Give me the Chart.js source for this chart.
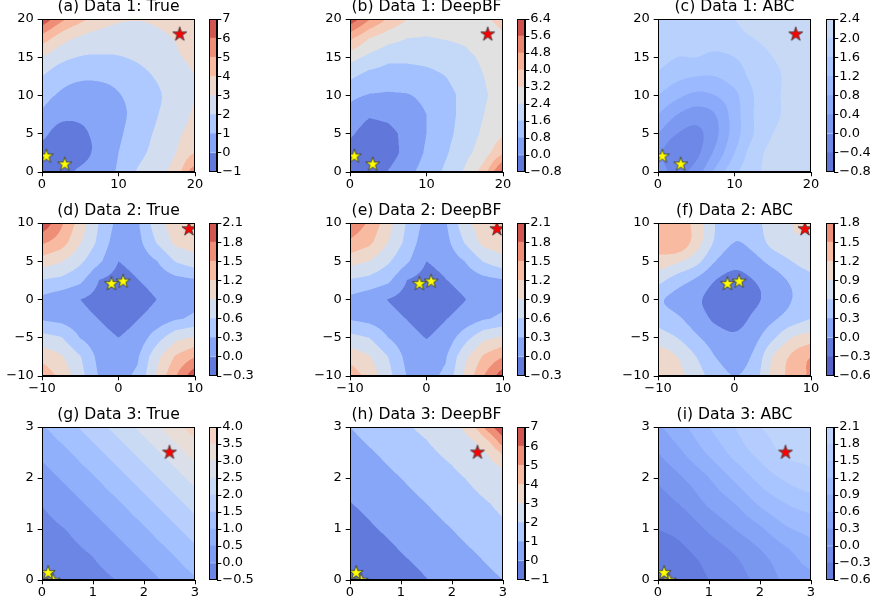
<!DOCTYPE html>
<html><head><meta charset="utf-8">
<script src="https://cdn.jsdelivr.net/npm/chart.js@4.4.1/dist/chart.umd.min.js"></script>
<style>
html,body{margin:0;padding:0;background:#fff;overflow:hidden;width:874px;height:600px;position:relative;}
canvas{position:absolute;}
</style></head><body>
<script>
// ---------------- DATA ----------------
const grid1 = [0,2.5,5,7.5,10,12.5,15,17.5,20];
const grid2 = [-10,-7.5,-5,-2.5,0,2.5,5,7.5,10];
const grid3 = [0,0.5,1,1.5,2,2.5,3];
const gridH = [0,0.5,1,1.5,2,2.25,2.5,2.75,3];

const ticks1x = [0,10,20];
const ticks1y = [0,5,10,15,20];
const ticks2x = [-10,0,10];
const ticks2y = [-10,-5,0,5,10];
const ticks3 = [0,1,2,3];

// rows: first row is lowest y
const zA = [
 [-0.5,-0.4,0.25,0.75,1.1,2.1,2.7,3.45,5.5],
 [-0.45,-0.9,-0.45,0.35,1.0,1.7,2.35,3.0,4.0],
 [0.3,-0.45,-0.2,0.3,0.85,1.5,2.15,2.8,3.35],
 [0.85,0.3,0.2,0.45,0.8,1.3,1.95,2.55,3.1],
 [1.35,0.85,0.65,0.7,0.95,1.35,1.85,2.45,3.02],
 [2.0,1.4,1.15,1.15,1.3,1.65,2.1,2.6,3.02],
 [3.0,2.3,1.95,1.9,1.95,2.15,2.5,2.9,3.15],
 [4.6,3.5,2.85,2.55,2.45,2.55,2.8,3.05,3.35],
 [6.8,5.3,4.3,3.6,3.15,3.05,3.15,3.35,3.7]
];
const zB = [
 [-0.4,-0.5,0.05,0.6,1.1,1.75,2.5,3.6,6.0],
 [-0.45,-0.75,-0.4,0.3,0.9,1.5,2.15,2.8,3.9],
 [0.15,-0.45,-0.25,0.25,0.8,1.35,1.95,2.55,3.1],
 [0.55,0.1,0.2,0.45,0.8,1.3,1.85,2.4,2.9],
 [0.95,0.75,0.7,0.75,0.95,1.35,1.8,2.3,2.75],
 [1.75,1.3,1.2,1.2,1.35,1.6,1.95,2.4,2.8],
 [2.7,2.2,1.8,1.8,1.85,1.95,2.2,2.55,2.9],
 [4.2,3.2,2.7,2.4,2.35,2.45,2.55,2.8,3.1],
 [6.2,4.9,3.9,3.2,2.9,2.85,2.95,3.1,3.4]
];
const zC = [
 [0.2,-0.1,0.2,0.9,1.5,1.9,2.1,2.1,2.1],
 [0.1,-0.3,-0.1,0.5,1.2,1.8,2.1,2.1,2.1],
 [0.4,0.0,-0.1,0.3,1.0,1.6,2.0,2.1,2.1],
 [0.8,0.4,0.2,0.4,1.0,1.6,1.9,2.1,2.1],
 [1.2,0.9,0.7,0.8,1.1,1.6,1.9,2.1,2.1],
 [1.5,1.3,1.2,1.2,1.4,1.7,1.9,2.1,2.1],
 [1.8,1.6,1.6,1.5,1.6,1.8,2.0,2.1,2.1],
 [1.9,1.9,1.8,1.8,1.9,2.0,2.1,2.1,2.1],
 [2.0,2.0,2.0,1.9,2.0,2.1,2.1,2.1,2.1]
];
const zD = [
 [1.4,1.12,0.71,0.27,0.2,0.355,0.94,1.49,2.05],
 [1.12,0.94,0.62,0.2,0.1,0.265,0.82,1.24,1.49],
 [0.71,0.62,0.29,0.1,0.0,0.1,0.47,0.82,0.94],
 [0.26,0.2,0.1,-0.01,-0.12,-0.01,0.1,0.265,0.355],
 [0.22,0.1,0.0,-0.12,-0.2,-0.12,0.0,0.1,0.2],
 [0.58,0.52,0.37,-0.01,-0.12,-0.01,0.1,0.2,0.26],
 [1.06,0.925,0.66,0.35,0.0,0.1,0.29,0.62,0.78],
 [1.56,1.36,0.925,0.52,0.1,0.2,0.62,0.98,1.08],
 [2.05,1.56,1.06,0.58,0.2,0.26,0.78,1.08,1.3]
];
const zE = [
 [1.38,1.1,0.7,0.28,0.2,0.36,0.95,1.5,2.0],
 [1.1,0.93,0.6,0.2,0.1,0.27,0.83,1.25,1.5],
 [0.7,0.6,0.3,0.1,-0.01,0.1,0.48,0.83,0.95],
 [0.27,0.2,0.1,-0.01,-0.13,-0.01,0.1,0.27,0.36],
 [0.22,0.1,-0.01,-0.13,-0.2,-0.13,-0.01,0.1,0.2],
 [0.57,0.5,0.36,-0.01,-0.13,-0.01,0.1,0.2,0.27],
 [1.02,0.9,0.64,0.34,0.0,0.1,0.3,0.62,0.8],
 [1.45,1.28,0.9,0.5,0.1,0.2,0.62,1.0,1.1],
 [1.75,1.45,1.02,0.56,0.2,0.27,0.8,1.1,1.32]
];
const zF = [
 [1.15,1.0,0.75,0.45,0.3,0.45,1.0,1.3,1.55],
 [1.1,0.9,0.6,0.3,0.2,0.35,0.9,1.25,1.5],
 [0.75,0.6,0.35,0.15,0.05,0.2,0.55,0.9,1.05],
 [0.5,0.35,0.15,-0.05,-0.1,0.05,0.25,0.45,0.6],
 [0.35,0.2,0.05,-0.1,-0.15,-0.05,0.1,0.3,0.45],
 [0.7,0.45,0.25,0.0,-0.1,0.0,0.15,0.35,0.5],
 [1.1,0.95,0.7,0.3,0.1,0.2,0.4,0.6,0.75],
 [1.35,1.45,1.05,0.55,0.3,0.4,0.7,0.85,0.85],
 [1.4,1.35,1.1,0.6,0.35,0.5,0.75,0.9,1.0]
];
const zG = [
 [-0.45,-0.35,-0.18,0.02,0.3,0.6,0.95],
 [-0.35,-0.18,0.02,0.3,0.6,0.95,1.33],
 [-0.18,0.02,0.3,0.6,0.95,1.33,1.75],
 [0.02,0.3,0.6,0.95,1.33,1.75,2.2],
 [0.3,0.6,0.95,1.33,1.75,2.2,2.68],
 [0.6,0.95,1.33,1.75,2.2,2.68,3.2],
 [0.95,1.33,1.75,2.2,2.68,3.2,3.75]
];
const zH = [
 [-0.8,-0.6,-0.38,-0.03,0.3,0.48,0.65,0.82,1.0],
 [-0.6,-0.38,-0.03,0.3,0.65,0.82,1.0,1.2,1.4],
 [-0.38,-0.03,0.3,0.65,1.0,1.2,1.4,1.6,1.8],
 [-0.03,0.3,0.65,1.0,1.4,1.6,1.8,2.0,2.25],
 [0.3,0.65,1.0,1.4,1.8,2.0,2.25,2.5,2.75],
 [0.48,0.82,1.2,1.6,2.0,2.25,2.5,2.75,3.15],
 [0.65,1.0,1.4,1.8,2.25,2.5,2.75,3.15,4.25],
 [0.82,1.2,1.6,2.0,2.5,2.75,3.15,4.25,5.8],
 [1.0,1.4,1.8,2.25,2.75,3.15,4.25,5.8,6.9]
];
const zI = [
 [-0.5,-0.45,-0.3,-0.15,0.1,0.35,0.5],
 [-0.45,-0.35,-0.2,0.0,0.25,0.5,0.75],
 [-0.3,-0.2,0.05,0.3,0.55,0.85,1.0],
 [-0.15,0.05,0.35,0.6,0.95,1.2,1.35],
 [0.05,0.3,0.6,0.95,1.3,1.55,1.7],
 [0.3,0.6,0.95,1.3,1.6,1.85,1.9],
 [0.55,0.85,1.2,1.5,1.8,1.9,1.95]
];

const levelsA = [-1,0,1,2,3,4,5,6,7];
const labelsA = ['\u22121','0','1','2','3','4','5','6','7'];
const levelsB = [-0.8,0,0.8,1.6,2.4,3.2,4.0,4.8,5.6,6.4];
const labelsB = ['\u22120.8','0.0','0.8','1.6','2.4','3.2','4.0','4.8','5.6','6.4'];
const levelsC = [-0.8,-0.4,0,0.4,0.8,1.2,1.6,2.0,2.4];
const labelsC = ['\u22120.8','\u22120.4','0.0','0.4','0.8','1.2','1.6','2.0','2.4'];
const levelsD = [-0.3,0,0.3,0.6,0.9,1.2,1.5,1.8,2.1];
const labelsD = ['\u22120.3','0.0','0.3','0.6','0.9','1.2','1.5','1.8','2.1'];
const levelsF = [-0.6,-0.3,0,0.3,0.6,0.9,1.2,1.5,1.8];
const labelsF = ['\u22120.6','\u22120.3','0.0','0.3','0.6','0.9','1.2','1.5','1.8'];
const levelsG = [-0.5,0,0.5,1,1.5,2,2.5,3,3.5,4];
const labelsG = ['\u22120.5','0.0','0.5','1.0','1.5','2.0','2.5','3.0','3.5','4.0'];
const levelsH = [-1,0,1,2,3,4,5,6,7];
const labelsH = ['\u22121','0','1','2','3','4','5','6','7'];
const levelsI = [-0.6,-0.3,0,0.3,0.6,0.9,1.2,1.5,1.8,2.1];
const labelsI = ['\u22120.6','\u22120.3','0.0','0.3','0.6','0.9','1.2','1.5','1.8','2.1'];

const yellow1 = [{x:0.57,y:2.05},{x:2.97,y:1.0}];
const red1 = [{x:18,y:18}];
const yellow2 = [{x:-0.92,y:2.05},{x:0.61,y:2.36}];
const red2 = [{x:9.2,y:9.2}];
const yellow3 = [{x:0.22,y:-0.01},{x:0.12,y:0.14}];
const red3 = [{x:2.5,y:2.5}];

const titles = ['(a) Data 1: True','(b) Data 1: DeepBF','(c) Data 1: ABC',
                '(d) Data 2: True','(e) Data 2: DeepBF','(f) Data 2: ABC',
                '(g) Data 3: True','(h) Data 3: DeepBF','(i) Data 3: ABC'];

// ---------------- STYLE ----------------
const COOLWARM = [[59,76,192],[68,90,204],[77,104,215],[87,117,225],[98,130,234],[108,142,241],[119,154,247],[130,165,251],[141,176,254],[152,185,255],[163,194,255],[174,201,253],[184,208,249],[194,213,244],[204,217,238],[213,219,230],[221,221,221],[229,216,209],[236,211,197],[241,204,184],[245,196,173],[247,187,160],[247,177,148],[247,166,135],[244,154,123],[241,141,111],[236,127,99],[229,112,88],[222,96,77],[213,80,66],[203,62,56],[192,40,47],[180,4,38]];
const ALPHA = 0.88;
const PLOT_LEFT = [42,350,658], PLOT_TOP = [19,223,427], PW = 153, PH = 153;
const CB_LEFT = [209,517,826], CB_W = 8;

Chart.defaults.font.family = "'DejaVu Sans', sans-serif";
Chart.defaults.color = '#000';

function coolwarm(t){
  t = Math.max(0, Math.min(1, t));
  const p = t*32; let i = Math.floor(p); if (i > 31) i = 31;
  const f = p - i, a = COOLWARM[i], b = COOLWARM[i+1];
  return [0,1,2].map(k => Math.round((a[k]*(1-f) + b[k]*f)*ALPHA + 255*(1-ALPHA)));
}
function bandColors(levels, norm){
  const out = [];
  for (let k=0;k<levels.length-1;k++){
    const mid = (levels[k]+levels[k+1])/2;
    out.push(coolwarm((mid-norm[0])/(norm[1]-norm[0])));
  }
  return out;
}
function cellIndex(g, v){
  let i = 0; while (i < g.length-2 && v >= g[i+1]) i++;
  return i;
}
function bilinear(gx, gy, z, vx, vy){
  const i = cellIndex(gx, vx), j = cellIndex(gy, vy);
  const tx = (vx-gx[i])/(gx[i+1]-gx[i]), ty = (vy-gy[j])/(gy[j+1]-gy[j]);
  return (z[j][i]*(1-tx) + z[j][i+1]*tx)*(1-ty) + (z[j+1][i]*(1-tx) + z[j+1][i+1]*tx)*ty;
}
function padGrid(z){
  const ny = z.length, nx = z[0].length, P = [];
  for (let j=0;j<ny;j++){
    const r = z[j].slice(); r.unshift(2*r[0]-r[1]); r.push(2*r[nx-1]-r[nx-2]); P.push(r);
  }
  const top = P[0].map((v,i) => 2*v - P[1][i]);
  const bot = P[ny-1].map((v,i) => 2*v - P[ny-2][i]);
  P.unshift(top); P.push(bot);
  return P;
}
function cr(p0,p1,p2,p3,t){
  return 0.5*(2*p1 + (-p0+p2)*t + (2*p0-5*p1+4*p2-p3)*t*t + (-p0+3*p1-3*p2+p3)*t*t*t);
}
function bicubic(gx, gy, P, vx, vy){
  const i = cellIndex(gx, vx), j = cellIndex(gy, vy);
  const tx = (vx-gx[i])/(gx[i+1]-gx[i]), ty = (vy-gy[j])/(gy[j+1]-gy[j]);
  const r = [];
  for (let k=0;k<4;k++){ const row = P[j+k]; r.push(cr(row[i],row[i+1],row[i+2],row[i+3],tx)); }
  return cr(r[0],r[1],r[2],r[3],ty);
}
function starImage(fill){
  const R = 7.4, r = R*0.382, size = 20;
  const c = document.createElement('canvas'); c.width = size; c.height = size;
  const g = c.getContext('2d');
  g.translate(size/2, size/2);
  g.beginPath();
  for (let k=0;k<10;k++){
    const ang = -Math.PI/2 + k*Math.PI/5, rad = (k%2) ? r : R;
    g.lineTo(rad*Math.cos(ang), rad*Math.sin(ang));
  }
  g.closePath(); g.fillStyle = fill; g.fill();
  g.lineWidth = 0.8; g.strokeStyle = '#333'; g.stroke();
  return c;
}
const YSTAR = starImage('#ffff00'), RSTAR = starImage('#ff0000');
const minusFmt = v => String(v).replace('-', '\u2212');

const framePlugin = {
  id: 'frame',
  afterDatasetsDraw(chart){
    const a = chart.chartArea, g = chart.ctx;
    g.save(); g.strokeStyle = '#000'; g.lineWidth = 1;
    g.strokeRect(Math.round(a.left)+0.5, Math.round(a.top)+0.5, Math.round(a.right-a.left)-1, Math.round(a.bottom-a.top)-1);
    g.restore();
  }
};

function makeContourPlugin(p, colors){
  const P = p.smooth ? padGrid(p.z) : null;
  return {
    id: 'contourFill',
    beforeDatasetsDraw(chart){
      const a = chart.chartArea, xs = chart.scales.x, ys = chart.scales.y;
      const S = 2, w = Math.round((a.right-a.left)*S), h = Math.round((a.bottom-a.top)*S);
      const off = document.createElement('canvas'); off.width = w; off.height = h;
      const octx = off.getContext('2d');
      const img = octx.createImageData(w, h), d = img.data;
      const vxs = [], vys = [];
      for (let i=0;i<w;i++) vxs.push(xs.getValueForPixel(a.left + (i+0.5)/S));
      for (let j=0;j<h;j++) vys.push(ys.getValueForPixel(a.top + (j+0.5)/S));
      const L = p.levels, nb = L.length-1;
      for (let j=0;j<h;j++){
        for (let i=0;i<w;i++){
          const v = P ? bicubic(p.gx, p.gy, P, vxs[i], vys[j]) : bilinear(p.gx, p.gy, p.z, vxs[i], vys[j]);
          let k = 0; while (k < nb-1 && v >= L[k+1]) k++;
          const c = colors[k], o = (j*w+i)*4;
          d[o]=c[0]; d[o+1]=c[1]; d[o+2]=c[2]; d[o+3]=255;
        }
      }
      octx.putImageData(img, 0, 0);
      const g = chart.ctx; g.save(); g.imageSmoothingEnabled = true;
      g.drawImage(off, a.left, a.top, a.right-a.left, a.bottom-a.top); g.restore();
    }
  };
}

function axisCommon(){
  return {
    grid:{drawOnChartArea:false, drawTicks:true, tickLength:4.3, color:'#000', lineWidth:1},
    border:{display:true, color:'#000', width:1},
  };
}

function makePanel(p){
  const colors = bandColors(p.levels, p.norm);
  const cv = document.createElement('canvas');
  cv.width = 42 + PW + 12; cv.height = 21 + PH + 26;
  cv.style.left = (PLOT_LEFT[p.col]-42)+'px'; cv.style.top = (PLOT_TOP[p.row]-21)+'px';
  document.body.appendChild(cv);
  new Chart(cv, {
    type: 'scatter',
    data: {datasets: [
      {data: p.yellow, pointStyle: YSTAR, clip: 0},
      {data: p.red, pointStyle: RSTAR, clip: 0}
    ]},
    options: {
      animation: false, responsive: false, events: [],
      layout: {padding: {left:0, right:12, top:0, bottom:2}},
      plugins: {
        legend: {display:false}, tooltip: {enabled:false},
        title: {display:true, text:p.title, fullSize:false, color:'#000',
          font:{size:15.6, weight:'normal', lineHeight:1.2}, padding:{top:0, bottom:2.28}}
      },
      scales: {
        x: Object.assign(axisCommon(), {type:'linear', min:p.xr[0], max:p.xr[1],
          afterBuildTicks: s => { s.ticks = p.xt.map(v => ({value:v})); },
          afterFit: s => { s.height = 24; },
          ticks: {padding:1, font:{size:13}, color:'#000', maxRotation:0, autoSkip:false, callback: v => minusFmt(v)}}),
        y: Object.assign(axisCommon(), {type:'linear', min:p.yr[0], max:p.yr[1],
          afterBuildTicks: s => { s.ticks = p.yt.map(v => ({value:v})); },
          afterFit: s => { s.width = 42; },
          ticks: {padding:4, font:{size:13}, color:'#000', autoSkip:false, callback: v => minusFmt(v)}})
      }
    },
    plugins: [makeContourPlugin(p, colors), framePlugin]
  });
  const cb = document.createElement('canvas');
  cb.width = CB_W + 44; cb.height = PH + 20;
  cb.style.left = CB_LEFT[p.col]+'px'; cb.style.top = (PLOT_TOP[p.row]-10)+'px';
  document.body.appendChild(cb);
  const L = p.levels;
  new Chart(cb, {
    type: 'bar',
    data: {labels: [''], datasets: colors.map((c,k) => ({
      data: [[L[k], L[k+1]]], backgroundColor: 'rgb('+c.join(',')+')', borderWidth:0,
      barPercentage:1, categoryPercentage:1, grouped:false}))},
    options: {
      animation:false, responsive:false, events:[],
      layout: {padding:{left:0,right:0,top:10,bottom:10}},
      plugins: {legend:{display:false}, tooltip:{enabled:false}},
      scales: {
        x: {display:false},
        y: Object.assign(axisCommon(), {type:'linear', position:'right', min:L[0], max:L[L.length-1],
          afterBuildTicks: s => { s.ticks = L.map(v => ({value:v})); },
          afterFit: s => { s.width = 44; },
          ticks: {padding:1, font:{size:13}, color:'#000', autoSkip:false, callback: (v,i) => p.cbLabels[i]}})
      }
    },
    plugins: [framePlugin]
  });
}

const panels = [
  {title:titles[0], gx:grid1, gy:grid1, z:zA, levels:levelsA, cbLabels:labelsA, norm:[-1,7], xr:[0,20], yr:[0,20], xt:ticks1x, yt:ticks1y, yellow:yellow1, red:red1, col:0, row:0, smooth:true},
  {title:titles[1], gx:grid1, gy:grid1, z:zB, levels:levelsB, cbLabels:labelsB, norm:[-0.8,6.4], xr:[0,20], yr:[0,20], xt:ticks1x, yt:ticks1y, yellow:yellow1, red:red1, col:1, row:0, smooth:false},
  {title:titles[2], gx:grid1, gy:grid1, z:zC, levels:levelsC, cbLabels:labelsC, norm:[-1,7], xr:[0,20], yr:[0,20], xt:ticks1x, yt:ticks1y, yellow:yellow1, red:red1, col:2, row:0, smooth:true},
  {title:titles[3], gx:grid2, gy:grid2, z:zD, levels:levelsD, cbLabels:labelsD, norm:[-0.3,2.1], xr:[-10,10], yr:[-10,10], xt:ticks2x, yt:ticks2y, yellow:yellow2, red:red2, col:0, row:1, smooth:false},
  {title:titles[4], gx:grid2, gy:grid2, z:zE, levels:levelsD, cbLabels:labelsD, norm:[-0.3,2.1], xr:[-10,10], yr:[-10,10], xt:ticks2x, yt:ticks2y, yellow:yellow2, red:red2, col:1, row:1, smooth:false},
  {title:titles[5], gx:grid2, gy:grid2, z:zF, levels:levelsF, cbLabels:labelsF, norm:[-0.3,2.1], xr:[-10,10], yr:[-10,10], xt:ticks2x, yt:ticks2y, yellow:yellow2, red:red2, col:2, row:1, smooth:true},
  {title:titles[6], gx:grid3, gy:grid3, z:zG, levels:levelsG, cbLabels:labelsG, norm:[-1,7], xr:[0,3], yr:[0,3], xt:ticks3, yt:ticks3, yellow:yellow3, red:red3, col:0, row:2, smooth:false},
  {title:titles[7], gx:gridH, gy:gridH, z:zH, levels:levelsH, cbLabels:labelsH, norm:[-1,7], xr:[0,3], yr:[0,3], xt:ticks3, yt:ticks3, yellow:yellow3, red:red3, col:1, row:2, smooth:false},
  {title:titles[8], gx:grid3, gy:grid3, z:zI, levels:levelsI, cbLabels:labelsI, norm:[-1,7], xr:[0,3], yr:[0,3], xt:ticks3, yt:ticks3, yellow:yellow3, red:red3, col:2, row:2, smooth:true}
];
panels.forEach(makePanel);
</script>
</body></html>
